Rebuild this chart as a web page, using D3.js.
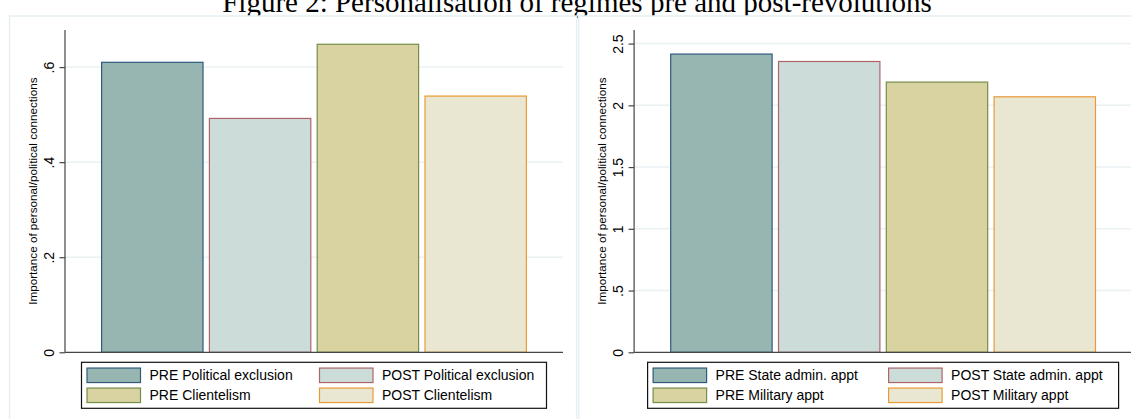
<!DOCTYPE html>
<html>
<head>
<meta charset="utf-8">
<script src="https://cdn.jsdelivr.net/npm/d3@7"></script>
<style>
  body { margin: 0; background: #fff; }
  svg { display: block; }
  text { font-family: "Liberation Sans", Arial, sans-serif; fill: #000; }
  .title { font-family: "Liberation Serif", "Times New Roman", serif; }
</style>
</head>
<body>
<div id="chart"></div>
<script>
// values
const leftCats = ['PRE Political exclusion', 'POST Political exclusion', 'PRE Clientelism', 'POST Clientelism'];
const leftVals = [0.61, 0.492, 0.648, 0.539];
const leftTicks = [0, 0.2, 0.4, 0.6];
const leftTickLabels = ['0', '.2', '.4', '.6'];
const leftYMax = 0.678;

const rightCats = ['PRE State admin. appt', 'POST State admin. appt', 'PRE Military appt', 'POST Military appt'];
const rightVals = [2.415, 2.355, 2.188, 2.069];
const rightTicks = [0, 0.5, 1, 1.5, 2, 2.5];
const rightTickLabels = ['0', '.5', '1', '1.5', '2', '2.5'];
const rightYMax = 2.61;

const yTitle = 'Importance of personal/political connections';
const figTitle = 'Figure 2: Personalisation of regimes pre and post-revolutions';

// stata-ish bar colours: fill / outline
const fills = ['#98b6b1', '#cbdcd9', '#d8d3a0', '#e9e7d1'];
const strokes = ['#2f5b7c', '#b0656b', '#768e48', '#eb9a35'];

const width = 1131, height = 419;

const svg = d3.select('#chart').append('svg')
  .attr('width', width)
  .attr('height', height);

svg.append('text')
  .attr('class', 'title')
  .attr('x', 577)
  .attr('y', 12)
  .attr('text-anchor', 'middle')
  .style('font-size', '29px')
  .text(figTitle);

function drawPanel(ox, cats, vals, ticks, tickLabels, yMax, leg) {
  const g = svg.append('g');

  // light frame round each graph
  g.append('rect')
    .attr('x', ox).attr('y', 16)
    .attr('width', 567).attr('height', 430)
    .attr('fill', '#fff')
    .attr('stroke', '#e6eff1')
    .attr('stroke-width', 1.5);

  const x0 = ox + 55.4, x1 = x0 + 498;
  const y = d3.scaleLinear().domain([0, yMax]).range([352.3, 30]);
  const x = d3.scaleBand()
    .domain(cats)
    .range([x0, x1])
    .paddingInner(0.05)
    .paddingOuter(0.335);

  // gridlines
  g.selectAll('.grid')
    .data(ticks.filter(d => d > 0))
    .join('line')
    .attr('x1', x0).attr('x2', x1)
    .attr('y1', d => y(d)).attr('y2', d => y(d))
    .attr('stroke', '#eaf2f3')
    .attr('stroke-width', 1.5);

  // bars
  g.selectAll('.bar')
    .data(vals)
    .join('rect')
    .attr('x', (d, i) => x(cats[i]) + 0.5)
    .attr('width', x.bandwidth() - 1)
    .attr('y', d => y(d))
    .attr('height', d => y(0) - y(d))
    .attr('fill', (d, i) => fills[i])
    .attr('stroke', (d, i) => strokes[i])
    .attr('stroke-width', 1.2);

  // y axis
  const axis = d3.axisLeft(y)
    .tickValues(ticks)
    .tickFormat((d, i) => tickLabels[i])
    .tickSize(5.5)
    .tickPadding(0);
  const ag = g.append('g')
    .attr('transform', `translate(${x0},0)`)
    .call(axis);
  ag.select('.domain').remove();
  ag.selectAll('.tick line').attr('stroke', '#444').attr('stroke-width', 1.2);
  ag.selectAll('.tick text')
    .attr('x', null).attr('dy', null)
    .attr('text-anchor', 'middle')
    .attr('dominant-baseline', 'central')
    .attr('transform', 'translate(-16.5,0) rotate(-90)')
    .style('font-size', '14px')
    .style('font-family', '"Liberation Sans", Arial, sans-serif');

  g.append('line')
    .attr('x1', x0).attr('x2', x0)
    .attr('y1', y(0)).attr('y2', y(yMax))
    .attr('stroke', '#444').attr('stroke-width', 1.2);
  g.append('line')
    .attr('x1', x0).attr('x2', x1)
    .attr('y1', y(0)).attr('y2', y(0))
    .attr('stroke', '#444').attr('stroke-width', 1.2);

  g.append('text')
    .attr('transform', `translate(${x0 - 32.5},${(y(0) + y(yMax)) / 2}) rotate(-90)`)
    .attr('text-anchor', 'middle')
    .attr('dominant-baseline', 'central')
    .style('font-size', '11.7px')
    .text(yTitle);

  // legend, 2 columns x 2 rows
  const lg = g.append('g');
  const bx = (x0 + x1) / 2 - leg.boxW / 2;
  lg.append('rect')
    .attr('x', bx).attr('y', 362.3)
    .attr('width', leg.boxW).attr('height', 46)
    .attr('fill', '#fff')
    .attr('stroke', '#111')
    .attr('stroke-width', 1.2);
  const items = lg.selectAll('.item')
    .data(cats)
    .join('g')
    .attr('transform', (d, i) =>
      `translate(${bx + (i % 2 ? leg.col2X : 5.5)},${i < 2 ? 375.3 : 395.3})`);
  items.append('rect')
    .attr('width', 53.5).attr('height', 14.5)
    .attr('y', -7.25)
    .attr('fill', (d, i) => fills[i])
    .attr('stroke', (d, i) => strokes[i])
    .attr('stroke-width', 1.2);
  items.append('text')
    .attr('x', 62.5)
    .attr('dominant-baseline', 'central')
    .style('font-size', '14px')
    .text(d => d);
}

drawPanel(9.6, leftCats, leftVals, leftTicks, leftTickLabels, leftYMax, { boxW: 465, col2X: 238 });
drawPanel(578.7, rightCats, rightVals, rightTicks, rightTickLabels, rightYMax, { boxW: 471, col2X: 241 });
</script>
</body>
</html>
